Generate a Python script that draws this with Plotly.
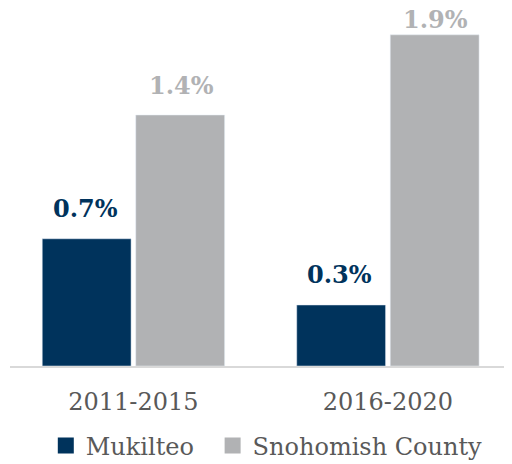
import plotly.graph_objects as go

categories = ["2011-2015", "2016-2020"]
mukilteo = [0.73, 0.35]
snohomish = [1.44, 1.90]
mukilteo_labels = ["0.7%", "0.3%"]
snohomish_labels = ["1.4%", "1.9%"]
series_names = ["Mukilteo", "Snohomish County"]

NAVY = "#00335c"
GRAY = "#b1b2b4"
FONT = "DejaVu Serif"
YMAX = 1.985

fig = go.Figure()
fig.add_trace(go.Bar(name=series_names[0], x=categories, y=mukilteo, marker_color=NAVY,
                     showlegend=False))
fig.add_trace(go.Bar(name=series_names[1], x=categories, y=snohomish, marker_color=GRAY,
                     showlegend=False))
# legend entries with larger square markers, one legend box each
for name, color, lg in zip(series_names, [NAVY, GRAY], ["legend", "legend2"]):
    fig.add_trace(go.Scatter(name=name, x=[None], y=[None], mode="markers",
                             marker=dict(symbol="square", size=18, color=color),
                             legend=lg))

def add_labels(values, labels, color, xshift):
    for cat, v, t in zip(categories, values, labels):
        shift = 30 if v < 0.9 * YMAX else 15
        fig.add_annotation(x=cat, y=v, text=f"<b>{t}</b>", showarrow=False,
                           xshift=xshift, yshift=shift, yanchor="middle",
                           font=dict(family=FONT, size=24, color=color))

add_labels(mukilteo, mukilteo_labels, NAVY, -48)
add_labels(snohomish, snohomish_labels, GRAY, 48)

legend_common = dict(orientation="h", xanchor="left", yref="container", y=0.0395,
                     yanchor="middle", xref="container",
                     font=dict(family=FONT, size=24, color="#595959"))

fig.update_layout(
    width=504, height=456,
    margin=dict(l=2, r=5, t=12, b=98, autoexpand=False),
    paper_bgcolor="white", plot_bgcolor="white",
    barmode="group", bargap=0.265, bargroupgap=0.05,
    font=dict(family=FONT, size=24, color="#595959"),
    showlegend=True,
    legend=dict(x=0.075, **legend_common),
    legend2=dict(x=0.406, **legend_common),
)
fig.update_xaxes(range=[-0.485, 1.468], showline=True, linecolor="#d9d9d9", linewidth=2,
                 ticks="", ticklabelstandoff=13,
                 tickfont=dict(family=FONT, size=24, color="#595959"))
fig.update_yaxes(range=[0, YMAX], visible=False, showgrid=False, zeroline=False)

fig.write_html("out.html")
